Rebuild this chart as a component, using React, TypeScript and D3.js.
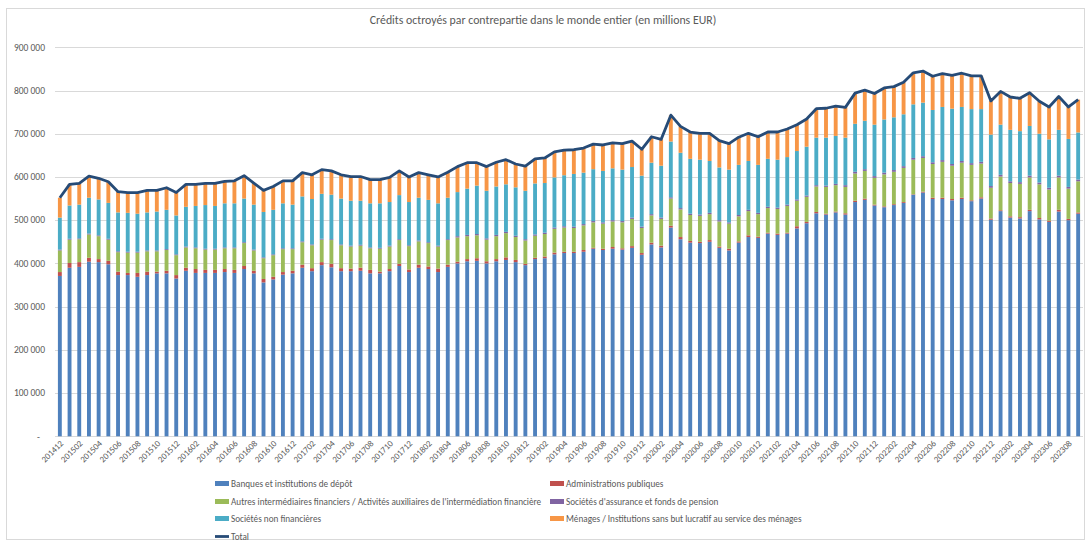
import * as d3 from "d3";

// mois (AAAAMM)
const months = [
  "201412",
  "201501", "201502", "201503", "201504", "201505", "201506", "201507", "201508", "201509", "201510", "201511", "201512",
  "201601", "201602", "201603", "201604", "201605", "201606", "201607", "201608", "201609", "201610", "201611", "201612",
  "201701", "201702", "201703", "201704", "201705", "201706", "201707", "201708", "201709", "201710", "201711", "201712",
  "201801", "201802", "201803", "201804", "201805", "201806", "201807", "201808", "201809", "201810", "201811", "201812",
  "201901", "201902", "201903", "201904", "201905", "201906", "201907", "201908", "201909", "201910", "201911", "201912",
  "202001", "202002", "202003", "202004", "202005", "202006", "202007", "202008", "202009", "202010", "202011", "202012",
  "202101", "202102", "202103", "202104", "202105", "202106", "202107", "202108", "202109", "202110", "202111", "202112",
  "202201", "202202", "202203", "202204", "202205", "202206", "202207", "202208", "202209", "202210", "202211", "202212",
  "202301", "202302", "202303", "202304", "202305", "202306", "202307", "202308", "202309",
];

// valeurs en milliers de millions EUR (x1000 plus bas)
const banques = [
  371, 390, 392, 404, 403, 398, 373, 373, 369, 373,
  377, 377, 365, 383, 378, 378, 378, 380, 378, 387,
  377, 356, 363, 374, 377, 390, 382, 396, 391, 382,
  382, 383, 377, 377, 382, 394, 380, 390, 387, 380,
  392, 400, 405, 406, 400, 405, 408, 403, 396, 410,
  412, 421, 424, 424, 427, 434, 431, 434, 432, 436,
  420, 444, 437, 483, 456, 448, 447, 450, 436, 430,
  448, 461, 459, 469, 466, 469, 481, 493, 516, 513,
  518, 513, 542, 547, 534, 530, 535, 540, 559, 564,
  549, 549, 546, 549, 544, 550, 501, 521, 506, 504,
  521, 502, 496, 520, 500, 515,
];
const administrations = [
  9, 11, 11, 9, 7, 8, 8, 5, 9, 8,
  4, 6, 8, 7, 9, 7, 7, 7, 7, 7,
  6, 8, 6, 6, 6, 7, 7, 7, 8, 7,
  6, 7, 8, 4, 5, 5, 6, 7, 6, 8,
  5, 4, 5, 6, 5, 5, 6, 5, 3, 3,
  4, 4, 3, 3, 4, 2, 3, 4, 3, 4,
  4, 4, 4, 4, 5, 4, 3, 4, 3, 4,
  3, 4, 3, 2, 3, 2, 5, 3, 3, 2,
  2, 3, 3, 3, 2, 2, 2, 2, 1, 2,
  3, 3, 3, 3, 2, 3, 3, 2, 3, 3,
  3, 3, 3, 4, 3, 3,
];
const autresIntermediaires = [
  50, 54, 53, 54, 53, 49, 45, 47, 47, 47,
  47, 48, 46, 47, 48, 47, 47, 48, 50, 53,
  47, 48, 50, 53, 50, 52, 53, 52, 55, 53,
  51, 51, 50, 53, 52, 55, 54, 54, 54, 51,
  57, 56, 53, 53, 50, 53, 56, 53, 54, 51,
  52, 55, 56, 55, 57, 59, 58, 59, 60, 63,
  58, 63, 62, 63, 64, 60, 60, 60, 58, 58,
  58, 56, 52, 57, 57, 62, 59, 58, 59, 62,
  61, 61, 63, 64, 62, 74, 75, 79, 80, 78,
  78, 83, 77, 81, 82, 78, 71, 78, 77, 77,
  75, 78, 72, 75, 70, 72,
];
const assurances = [
  2, 2, 2, 2, 2, 2, 2, 2, 2, 2,
  2, 2, 2, 2, 2, 2, 2, 2, 2, 2,
  2, 2, 2, 2, 2, 2, 2, 2, 2, 2,
  2, 2, 2, 2, 2, 2, 2, 2, 2, 2,
  2, 3, 3, 3, 3, 3, 3, 3, 3, 3,
  3, 3, 3, 3, 3, 3, 3, 3, 3, 3,
  3, 3, 3, 3, 3, 3, 3, 3, 3, 3,
  3, 3, 3, 3, 3, 3, 3, 3, 3, 3,
  3, 4, 4, 4, 4, 4, 4, 4, 4, 4,
  4, 4, 4, 4, 4, 4, 4, 4, 4, 4,
  4, 4, 4, 4, 4, 4,
];
const societesNonFin = [
  74, 77, 78, 83, 83, 83, 90, 90, 88, 88,
  90, 91, 90, 92, 96, 101, 99, 102, 102, 101,
  104, 105, 103, 104, 101, 104, 105, 104, 103, 106,
  104, 102, 102, 103, 101, 102, 100, 99, 98, 98,
  96, 102, 107, 112, 110, 112, 110, 112, 112, 118,
  115, 116, 118, 122, 119, 120, 119, 120, 119, 117,
  118, 119, 120, 129, 128, 127, 127, 120, 122, 122,
  116, 113, 111, 111, 111, 110, 112, 113, 110, 111,
  111, 110, 111, 112, 119, 123, 122, 120, 124, 124,
  121, 123, 128, 125, 125, 122, 119, 116, 119, 118,
  115, 113, 112, 106, 111, 109,
];
const menages = [
  46, 49, 49, 50, 49, 49, 48, 47, 49, 51,
  49, 51, 53, 52, 50, 50, 52, 51, 52, 53,
  50, 50, 54, 52, 55, 55, 56, 56, 55, 55,
  56, 56, 55, 55, 57, 56, 58, 58, 58, 61,
  59, 59, 60, 53, 56, 56, 57, 54, 57, 57,
  58, 59, 58, 56, 57, 58, 60, 59, 60, 60,
  61, 60, 61, 61, 61, 62, 61, 64, 62, 60,
  64, 64, 65, 62, 64, 65, 61, 64, 67, 68,
  69, 70, 71, 71, 72, 73, 71, 74, 73, 73,
  78, 77, 77, 78, 77, 77, 78, 77, 76, 76,
  77, 75, 75, 77, 74, 76,
];

const yTicks = [0, 100000, 200000, 300000, 400000, 500000, 600000, 700000, 800000, 900000];

const series = [
  { key: "banques", label: "Banques et institutions de dépôt", color: "#4f81bd", values: banques },
  { key: "admin", label: "Administrations publiques", color: "#c0504d", values: administrations },
  { key: "autres", label: "Autres intermédiaires financiers / Activités auxiliaires de l'intermédiation financière", color: "#9bbb59", values: autresIntermediaires },
  { key: "assur", label: "Sociétés d'assurance et fonds de pension", color: "#8064a2", values: assurances },
  { key: "snf", label: "Sociétés non financières", color: "#4bacc6", values: societesNonFin },
  { key: "menages", label: "Ménages / Institutions sans but lucratif au service des ménages", color: "#f79646", values: menages },
];

const W = 1087;
const H = 542;
const FONT = "Carlito, Calibri, Lato, sans-serif";
const TXT = "#595959";
const GRID = "#d9d9d9";

export default function App() {
  const rows = months.map((m, i) => {
    const r: Record<string, any> = { month: m };
    series.forEach((s) => (r[s.key] = s.values[i] * 1000));
    return r;
  });
  const stacked = d3.stack().keys(series.map((s) => s.key))(rows as any);
  const totals = rows.map((r) => d3.sum(series, (s) => r[s.key]));

  const x = d3.scaleBand().domain(months).range([55, 1083]).paddingInner(0.6).paddingOuter(0.3);
  const y = d3.scaleLinear().domain([0, 900000]).range([436.3, 47.3]);
  const cx = (m: string) => (x(m) ?? 0) + x.bandwidth() / 2;

  const fmt = (v: number) => (v === 0 ? "-" : d3.format(",")(v).replace(/,/g, " "));

  const totalLine = d3
    .line<number>()
    .x((d, i) => cx(months[i]))
    .y((d) => y(d));

  const legendRows = [
    [series[0], series[1]],
    [series[2], series[3]],
    [series[4], series[5]],
  ];
  const legendY = [484, 502, 519];
  const legendX = [215, 550];

  return (
    <svg width={W} height={H} style={{ position: "absolute", left: 0, top: 0, background: "#fff" }} fontFamily={FONT}>
      <rect x={6.5} y={8.5} width={1078} height={531} fill="#fff" stroke={GRID} />
      <text x={543} y={24} textAnchor="middle" fontSize={11.8} fill={TXT}>
        Crédits octroyés par contrepartie dans le monde entier (en millions EUR)
      </text>

      {yTicks.map((t) => (
        <g key={t}>
          <line x1={55} x2={1083} y1={Math.round(y(t)) + 0.5} y2={Math.round(y(t)) + 0.5} stroke={GRID} strokeWidth={1} />
          <text x={t === 0 ? 40 : 45} y={y(t) + 3.2} textAnchor="end" fontSize={9.5} fill={TXT}>
            {fmt(t)}
          </text>
        </g>
      ))}

      {stacked.map((layer, li) => (
        <g key={layer.key} fill={series[li].color}>
          {layer.map((d, i) => (
            <rect
              key={months[i]}
              x={x(months[i])}
              y={y(d[1])}
              width={x.bandwidth()}
              height={Math.max(0, y(d[0]) - y(d[1]))}
            />
          ))}
        </g>
      ))}

      <path d={totalLine(totals) ?? ""} fill="none" stroke="#264b77" strokeWidth={2.8} strokeLinejoin="round" />

      {months.map((m, i) =>
        i % 2 === 0 ? (
          <text
            key={m}
            transform={`translate(${cx(m) + 4},${444}) rotate(-45)`}
            textAnchor="end"
            fontSize={8.8}
            fill={TXT}
          >
            {m}
          </text>
        ) : null
      )}

      {legendRows.map((row, ri) =>
        row.map((s, ci) => (
          <g key={s.key} transform={`translate(${legendX[ci]},${legendY[ri]})`}>
            <rect x={0} y={-3} width={14} height={5} fill={s.color} />
            <text x={16} y={3.2} fontSize={9.2} fill={TXT}>
              {s.label}
            </text>
          </g>
        ))
      )}
      <g transform={`translate(${legendX[0]},537)`}>
        <line x1={0} x2={14} y1={-0.5} y2={-0.5} stroke="#264b77" strokeWidth={2.8} />
        <text x={16} y={3.2} fontSize={9.2} fill={TXT}>
          Total
        </text>
      </g>
    </svg>
  );
}
